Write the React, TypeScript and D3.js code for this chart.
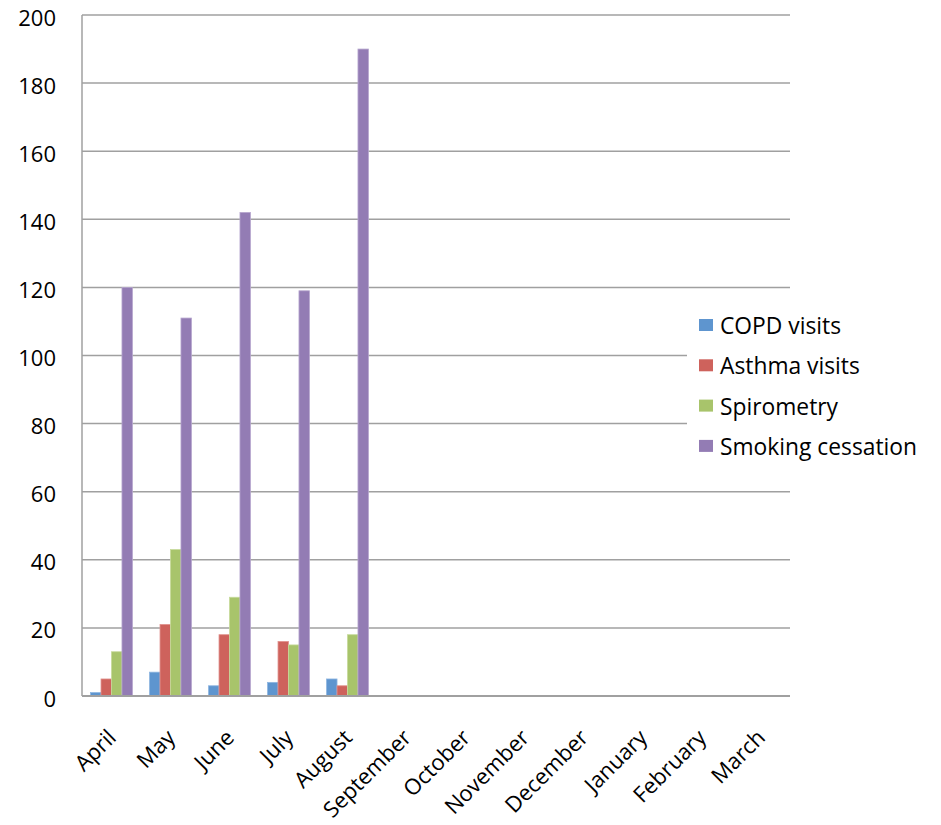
import React from "react";
import * as d3 from "d3";

const months = ["April","May","June","July","August","September","October","November","December","January","February","March"];
const seriesNames = ["COPD visits","Asthma visits","Spirometry","Smoking cessation"];
const copd = [1, 7, 3, 4, 5, null, null, null, null, null, null, null];
const asthma = [5, 21, 18, 16, 3, null, null, null, null, null, null, null];
const spirometry = [13, 43, 29, 15, 18, null, null, null, null, null, null, null];
const smoking = [120, 111, 142, 119, 190, null, null, null, null, null, null, null];
const yTicks = [0, 20, 40, 60, 80, 100, 120, 140, 160, 180, 200];
const colors = ["#5E95CF", "#CE625C", "#A8C46B", "#937CB4"];
const strokes = ["#8DB5E0", "#E0918C", "#C6DA9B", "#B6A6CE"];

const W = 941, H = 825;
const left = 82, right = 790, top = 15, bottom = 696;
const FONT = "'Open Sans', sans-serif";

export default function App() {
  const values = [copd, asthma, spirometry, smoking];
  const x0 = d3.scaleBand<string>().domain(months).range([left, right]).padding(0);
  const bw = x0.bandwidth();
  const pad = bw * 0.145;
  const x1 = d3.scaleBand<string>().domain(seriesNames).range([pad, bw - pad]).padding(0);
  const y = d3.scaleLinear().domain([0, 200]).range([bottom, top]);

  return (
    <svg width={W} height={H} style={{ position: "absolute", left: 0, top: 0, background: "#fff" }} fontFamily={FONT}>
      {yTicks.map((t) => (
        <g key={t}>
          {t > 0 && (
            <line x1={left} x2={right} y1={y(t)} y2={y(t)} stroke="#A0A0A0" strokeWidth={1.5} />
          )}
          <text x={56} y={y(t) + 10.5} textAnchor="end" fontSize={22} fill="#000">{t}</text>
        </g>
      ))}
      {values.map((vals, si) =>
        vals.map((v, mi) =>
          v == null ? null : (
            <rect
              key={si + "-" + mi}
              x={(x0(months[mi]) as number) + (x1(seriesNames[si]) as number)}
              y={y(v)}
              width={x1.bandwidth()}
              height={bottom - y(v)}
              fill={colors[si]}
              stroke={strokes[si]}
              strokeWidth={0.8}
            />
          )
        )
      )}
      <line x1={left} x2={left} y1={top} y2={bottom} stroke="#A0A0A0" strokeWidth={1.5} />
      <line x1={left} x2={right} y1={bottom} y2={bottom} stroke="#A0A0A0" strokeWidth={2} />
      {months.map((m) => {
        const cx = (x0(m) as number) + bw / 2 + 6;
        return (
          <text key={m} transform={`translate(${cx},${bottom + 43}) rotate(-45)`} textAnchor="end" fontSize={22} fill="#000">{m}</text>
        );
      })}
      <rect x={687} y={303} width={250} height={165} fill="#fff" />
      {seriesNames.map((s, i) => (
        <g key={s} transform={`translate(699,${334 + i * 40.3})`}>
          <rect x={0} y={-15} width={14} height={12} fill={colors[i]} />
          <text x={21} y={0} fontSize={22.8} fill="#000">{s}</text>
        </g>
      ))}
    </svg>
  );
}
